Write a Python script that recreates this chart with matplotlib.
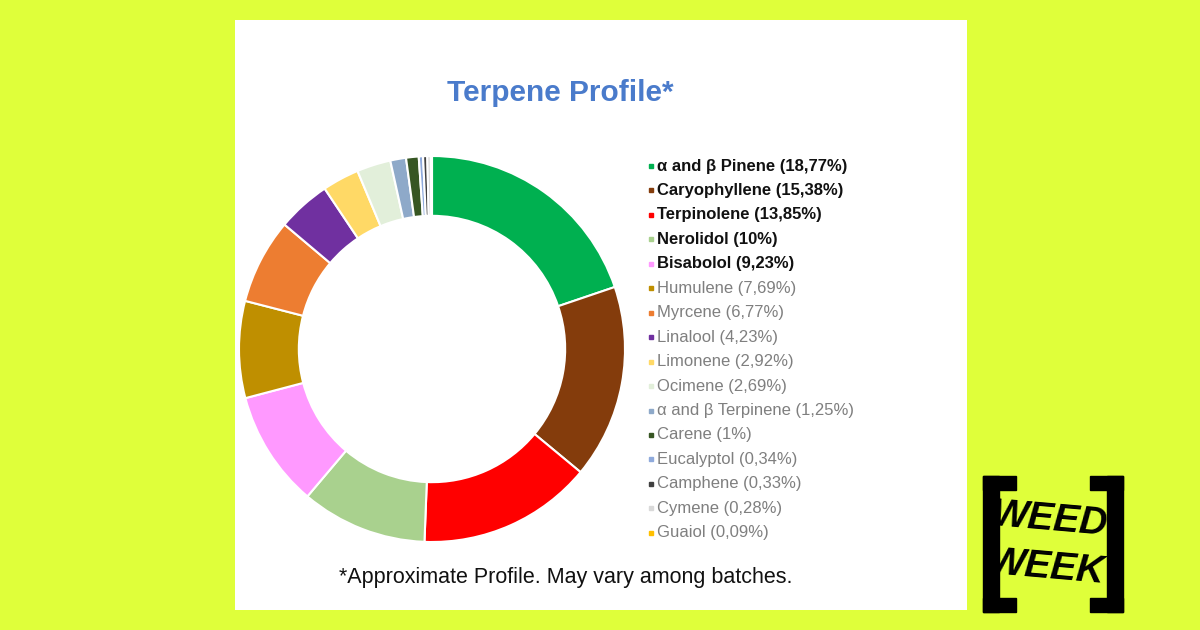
import matplotlib.pyplot as plt
from matplotlib.patches import Rectangle
from matplotlib.lines import Line2D

plt.rcParams['font.family'] = ['Liberation Sans', 'DejaVu Sans']

# data
names = ["α and β Pinene", "Caryophyllene", "Terpinolene", "Nerolidol", "Bisabolol",
         "Humulene", "Myrcene", "Linalool", "Limonene", "Ocimene",
         "α and β Terpinene", "Carene", "Eucalyptol", "Camphene", "Cymene", "Guaiol"]
pct_labels = ["18,77%", "15,38%", "13,85%", "10%", "9,23%", "7,69%", "6,77%", "4,23%",
              "2,92%", "2,69%", "1,25%", "1%", "0,34%", "0,33%", "0,28%", "0,09%"]
values = [18.77, 15.38, 13.85, 10, 9.23, 7.69, 6.77, 4.23,
          2.92, 2.69, 1.25, 1, 0.34, 0.33, 0.28, 0.09]
colors = ["#00B050", "#843C0C", "#FF0000", "#A9D18E", "#FF99FF", "#BF8F00", "#ED7D31",
          "#7030A0", "#FFD966", "#E2EFDA", "#8EA9C9", "#375623", "#8FAADC", "#404040",
          "#D9D9D9", "#FFC000"]
n_bold = 5

W, H = 1200, 630
fig = plt.figure(figsize=(W / 100, H / 100), dpi=100)
fig.patch.set_facecolor("#DFFF3A")

def fx(x):
    return x / W

def fy(y):
    return 1 - y / H

# background axes in pixel coords (y down) for card, legend and logo
bg = fig.add_axes([0, 0, 1, 1], facecolor="none", zorder=0)
bg.set_xlim(0, W)
bg.set_ylim(H, 0)
bg.axis("off")
bg.add_patch(Rectangle((235, 20), 732, 590, facecolor="white", edgecolor="none", zorder=0))

# donut
cx, cy, r = 432, 349, 193
ax = fig.add_axes([fx(cx - r), fy(cy + r), 2 * r / W, 2 * r / H], zorder=1)
ax.pie(values, colors=colors, startangle=90, counterclock=False, radius=1,
       wedgeprops=dict(width=0.31, edgecolor="white", linewidth=1.5))
ax.set_xlim(-1, 1)
ax.set_ylim(-1, 1)
ax.axis("off")

bg.text(560, 93, "Terpene Profile*", color="#4A7BCB", fontsize=21.5,
        fontweight="bold", ha="center", va="center")
bg.text(566, 577, "*Approximate Profile. May vary among batches.", color="#111111",
        fontsize=15.5, ha="center", va="center")

# legend
for i, (nm, pl, c) in enumerate(zip(names, pct_labels, colors)):
    y = 166 + i * 24.45
    bg.add_line(Line2D([651], [y], marker="s", markersize=3.0, color=c, linestyle="none"))
    bold = i < n_bold
    bg.text(657, y, f"{nm} ({pl})", fontsize=12, va="center", ha="left",
            color="#111111" if bold else "#7F7F7F",
            fontweight="bold" if bold else "normal")

# logo
for x0, x1, bx in [(983, 1016, 983), (1090, 1123, 1107)]:
    bg.add_patch(Rectangle((bx, 476), 16, 136, color="black"))
    bg.add_patch(Rectangle((x0, 476), x1 - x0, 14, color="black"))
    bg.add_patch(Rectangle((x0, 598), x1 - x0, 14, color="black"))
bg.text(1049, 520, "WEED", fontsize=28, fontweight="bold", style="italic",
        ha="center", va="center", rotation=-5, color="black")
bg.text(1046, 568, "WEEK", fontsize=28, fontweight="bold", style="italic",
        ha="center", va="center", rotation=-5, color="black")

fig.savefig("out.png", dpi=100, facecolor=fig.get_facecolor())
